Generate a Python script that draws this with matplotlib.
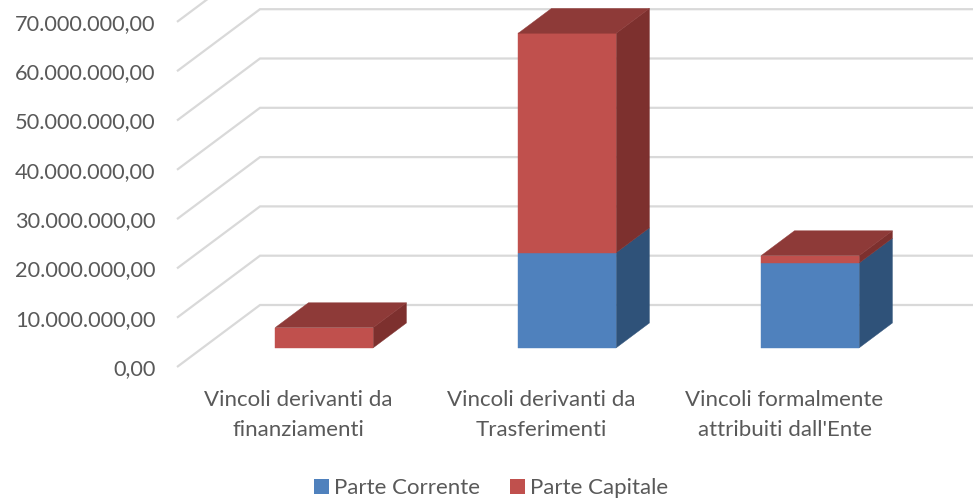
import matplotlib
matplotlib.use("Agg")
import matplotlib.pyplot as plt
from matplotlib.patches import Polygon, Patch
from matplotlib.ticker import FuncFormatter

# ---- data ----
categories = ["Vincoli derivanti da\nfinanziamenti",
              "Vincoli derivanti da\nTrasferimenti",
              "Vincoli formalmente\nattribuiti dall'Ente"]
series_names = ["Parte Corrente", "Parte Capitale"]
parte_corrente = [0.0, 19.3e6, 17.2e6]
parte_capitale = [4.1e6, 44.5e6, 1.5e6]
y_ticks = [0, 10e6, 20e6, 30e6, 40e6, 50e6, 60e6, 70e6]

# ---- style ----
plt.rcParams['font.family'] = ['Lato', 'DejaVu Sans']
TXT = '#595959'
GRID = '#D9D9D9'
face_cols = {"Parte Corrente": ('#4F81BD', '#2F5279', '#3A6399'),
             "Parte Capitale": ('#C0504D', '#7D302E', '#8E3A38')}

W, H = 973, 499
fig = plt.figure(figsize=(W / 100, H / 100), dpi=100)
x0_px, y0_px = 177, 367          # front-left corner of the floor
cat_px = 243                     # category width in px
k = 4.93e-6                      # px per value unit
ax = fig.add_axes([x0_px / W, (H - y0_px) / H, 1 - x0_px / W, y0_px / H])
ax.set_xlim(-0.5, (W - (x0_px + cat_px / 2)) / cat_px)
ax.set_ylim(0, y0_px / k)
for s in ax.spines.values():
    s.set_visible(False)

DX = 83 / cat_px                 # full depth offset in x (category units)
DY = 62 / k                      # full depth offset in y (value units)
d0, d1 = 0.31, 0.71              # bar depth range
hw = 0.2016                      # half bar width


def P(x, v, d):
    return (x + d * DX, v + d * DY)


# gridlines (floor diagonals + back wall)
for v in y_ticks:
    xa, ya = P(-0.5, v, 0)
    xb, yb = P(-0.5, v, 1)
    xc, yc = P(2.6, v, 1)
    ax.plot([xa, xb, xc], [ya, yb, yc], color=GRID, lw=1.6, clip_on=False,
            zorder=1, solid_capstyle='butt', solid_joinstyle='miter')

# bars
for i in range(len(categories)):
    base = 0.0
    segs = []
    for name, vals in zip(series_names, [parte_corrente, parte_capitale]):
        h = vals[i]
        if h > 0:
            segs.append((name, base, base + h))
        base += h
    for j, (name, b, t) in enumerate(segs):
        fc, sc, tc = face_cols[name]
        front = [P(i - hw, b, d0), P(i + hw, b, d0), P(i + hw, t, d0), P(i - hw, t, d0)]
        side = [P(i + hw, b, d0), P(i + hw, b, d1), P(i + hw, t, d1), P(i + hw, t, d0)]
        ax.add_patch(Polygon(side, closed=True, facecolor=sc, edgecolor=sc,
                             lw=0.3, zorder=3, clip_on=False))
        ax.add_patch(Polygon(front, closed=True, facecolor=fc, edgecolor=fc,
                             lw=0.3, zorder=4, clip_on=False))
        if j == len(segs) - 1:
            top = [P(i - hw, t, d0), P(i + hw, t, d0), P(i + hw, t, d1), P(i - hw, t, d1)]
            ax.add_patch(Polygon(top, closed=True, facecolor=tc, edgecolor=tc,
                                 lw=0.3, zorder=4, clip_on=False))


def it_fmt(v, pos=None):
    s = f"{v:,.2f}"
    return s.replace(",", "X").replace(".", ",").replace("X", ".")


ax.set_yticks(y_ticks)
ax.yaxis.set_major_formatter(FuncFormatter(it_fmt))
ax.tick_params(axis='y', length=0, pad=15.5, labelsize=15.7, labelcolor=TXT)
ax.set_xticks(range(len(categories)))
ax.set_xticklabels(categories, linespacing=1.6)
ax.tick_params(axis='x', length=0, pad=16.5, labelsize=16, labelcolor=TXT)

handles = [Patch(facecolor=face_cols[n][0], edgecolor='none') for n in series_names]
fig.legend(handles, series_names, loc='lower center', ncol=2, frameon=False,
           bbox_to_anchor=(0.505, -0.038), fontsize=16, labelcolor=TXT,
           handlelength=0.65, handleheight=0.65, handletextpad=0.25,
           columnspacing=1.35)

fig.savefig("out.png", dpi=100)
